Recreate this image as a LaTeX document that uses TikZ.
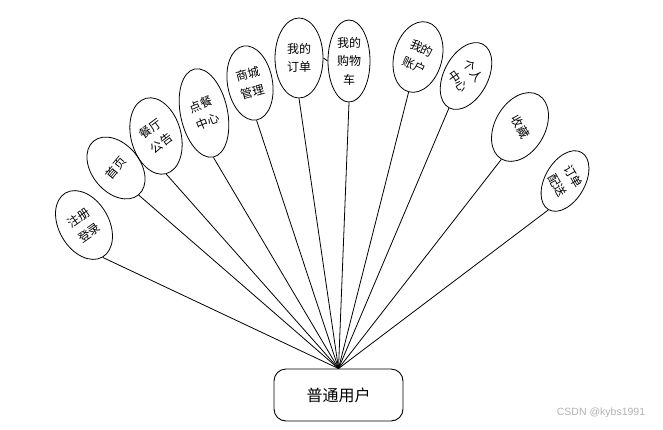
\documentclass[tikz,border=0pt]{standalone}
\usepackage{fontspec}
\setmainfont{Liberation Sans}
\newfontfamily\cjk{Noto Sans CJK SC}
\usetikzlibrary{shapes.geometric}
\begin{document}
\begin{tikzpicture}[x=1pt,y=-1pt,
  ell/.style={draw, ellipse, inner sep=0pt, line width=0.8pt},
  lbl/.style={font=\cjk\fontsize{12}{18.5}\selectfont, align=center, inner sep=0pt},
  conn/.style={draw, line width=0.8pt},
  hubbox/.style={draw, rounded corners=12pt, minimum width=129pt, minimum height=52pt,
    font=\cjk\fontsize{16}{20}\selectfont, line width=0.9pt}]
\useasboundingbox (0,0) rectangle (663,429);
\node[hubbox] (hub) at (338.5,395) {普通用户};

\node[ell, minimum width=50pt, minimum height=74pt, rotate=30] (e1) at (84,225) {};
\node[lbl, rotate=35] (t1) at (e1.center) {注册\\登录};

\node[ell, minimum width=48pt, minimum height=70pt, rotate=40] (e2) at (116,168) {};
\node[lbl, rotate=50] (t2) at (e2.center) {首页};

\node[ell, minimum width=50pt, minimum height=78pt, rotate=15] (e3) at (156,136) {};
\node[lbl, rotate=37] (t3) at (e3.center) {餐厅\\公告};

\node[ell, minimum width=47pt, minimum height=90pt, rotate=12] (e4) at (204,113) {};
\node[lbl, rotate=22] (t4) at (e4.center) {点餐\\中心};

\node[ell, minimum width=45pt, minimum height=75pt, rotate=10] (e5) at (250,83) {};
\node[lbl, rotate=15] (t5) at (e5.center) {商城\\管理};

\node[ell, minimum width=48pt, minimum height=80pt] (e6) at (299,58) {};
\node[lbl] (t6) at (e6.center) {我的\\订单};

\node[ell, minimum width=42pt, minimum height=82pt] (e7) at (349,61) {};
\node[lbl] (t7) at (e7.center) {我的\\购物\\车};

\node[ell, minimum width=48pt, minimum height=72pt, rotate=-15] (e8) at (418,57) {};
\node[lbl, rotate=-25] (t8) at (e8.center) {我的\\账户};

\node[ell, minimum width=44pt, minimum height=72pt, rotate=-28] (e9) at (466,76) {};
\node[lbl, rotate=-55] (t9) at (e9.center) {个人\\中心};

\node[ell, minimum width=50pt, minimum height=74pt, rotate=-30] (e10) at (520,127) {};
\node[lbl, rotate=-60] (t10) at (e10.center) {收藏};

\node[ell, minimum width=40pt, minimum height=66pt, rotate=-30] (e11) at (565,181) {};
\node[lbl, rotate=-60] (t11) at (e11.center) {订单\\配送};

\foreach \e in {e1,e2,e3,e4,e5,e6,e7,e8,e9,e10,e11}
  \draw[conn] (\e.south) -- (hub.north);
\draw[conn] (e6.east) -- (e7.west);

\node[font=\fontsize{10.5}{12}\selectfont, text=gray!60] (wm) at (601,413) {CSDN @kybs1991};
\end{tikzpicture}
\end{document}
